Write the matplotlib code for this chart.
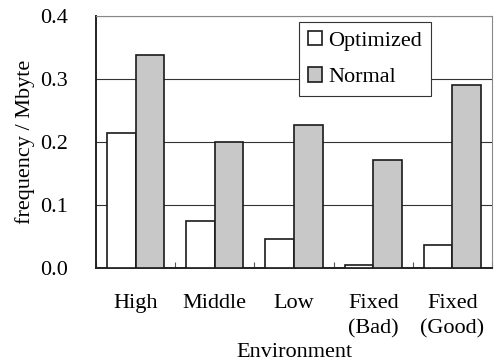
import matplotlib.pyplot as plt
import numpy as np

plt.rcParams.update({'font.family': 'Liberation Serif', 'font.size': 16})

categories = ["High", "Middle", "Low", "Fixed\n(Bad)", "Fixed\n(Good)"]
optimized = [0.215, 0.074, 0.046, 0.005, 0.036]
normal = [0.338, 0.200, 0.227, 0.171, 0.291]

x = np.arange(len(categories))
w = 0.36

fig = plt.figure(figsize=(4.97, 3.62), dpi=100)
ax = fig.add_axes([96 / 497, (362 - 268) / 362, 396 / 497, 252 / 362])

ax.bar(x - w / 2, optimized, w, color='white', edgecolor='#1a1a1a', linewidth=1.2,
       label='Optimized', zorder=3)
ax.bar(x + w / 2, normal, w, color='#c8c8c8', edgecolor='#1a1a1a', linewidth=1.2,
       label='Normal', zorder=3)

ax.set_xlim(-0.5, len(categories) - 0.5)
ax.set_ylim(0, 0.4)
ax.set_yticks([0.0, 0.1, 0.2, 0.3, 0.4])
ax.set_yticklabels(["0.0", "0.1", "0.2", "0.3", "0.4"])
ax.yaxis.grid(True, color='#333333', linewidth=0.8)
ax.set_axisbelow(True)

ax.set_xticks(x)
ax.set_xticklabels(categories, va='top', linespacing=1.4)
ax.tick_params(axis='x', length=0, pad=19)
ax.set_xticks(np.arange(len(categories) + 1) - 0.5, minor=True)
ax.tick_params(axis='x', which='minor', direction='in', length=4, width=0.8, color='#555555')
ax.tick_params(axis='y', length=0, pad=20)

for s in ['top', 'right']:
    ax.spines[s].set_color('#888888')
for s in ['left', 'bottom']:
    ax.spines[s].set_color('#222222')
    ax.spines[s].set_linewidth(1.4)

ax.set_ylabel("frequency / Mbyte", labelpad=4)
ax.set_xlabel("Environment", labelpad=3)

leg = ax.legend(loc='upper right', bbox_to_anchor=(0.846, 0.976), borderaxespad=0,
                fancybox=False, edgecolor='#333333', framealpha=1,
                handlelength=0.6, handleheight=0.6, handletextpad=0.3,
                labelspacing=0.75, borderpad=0.4)
leg.get_frame().set_linewidth(0.8)

fig.savefig("out.png", dpi=100)
